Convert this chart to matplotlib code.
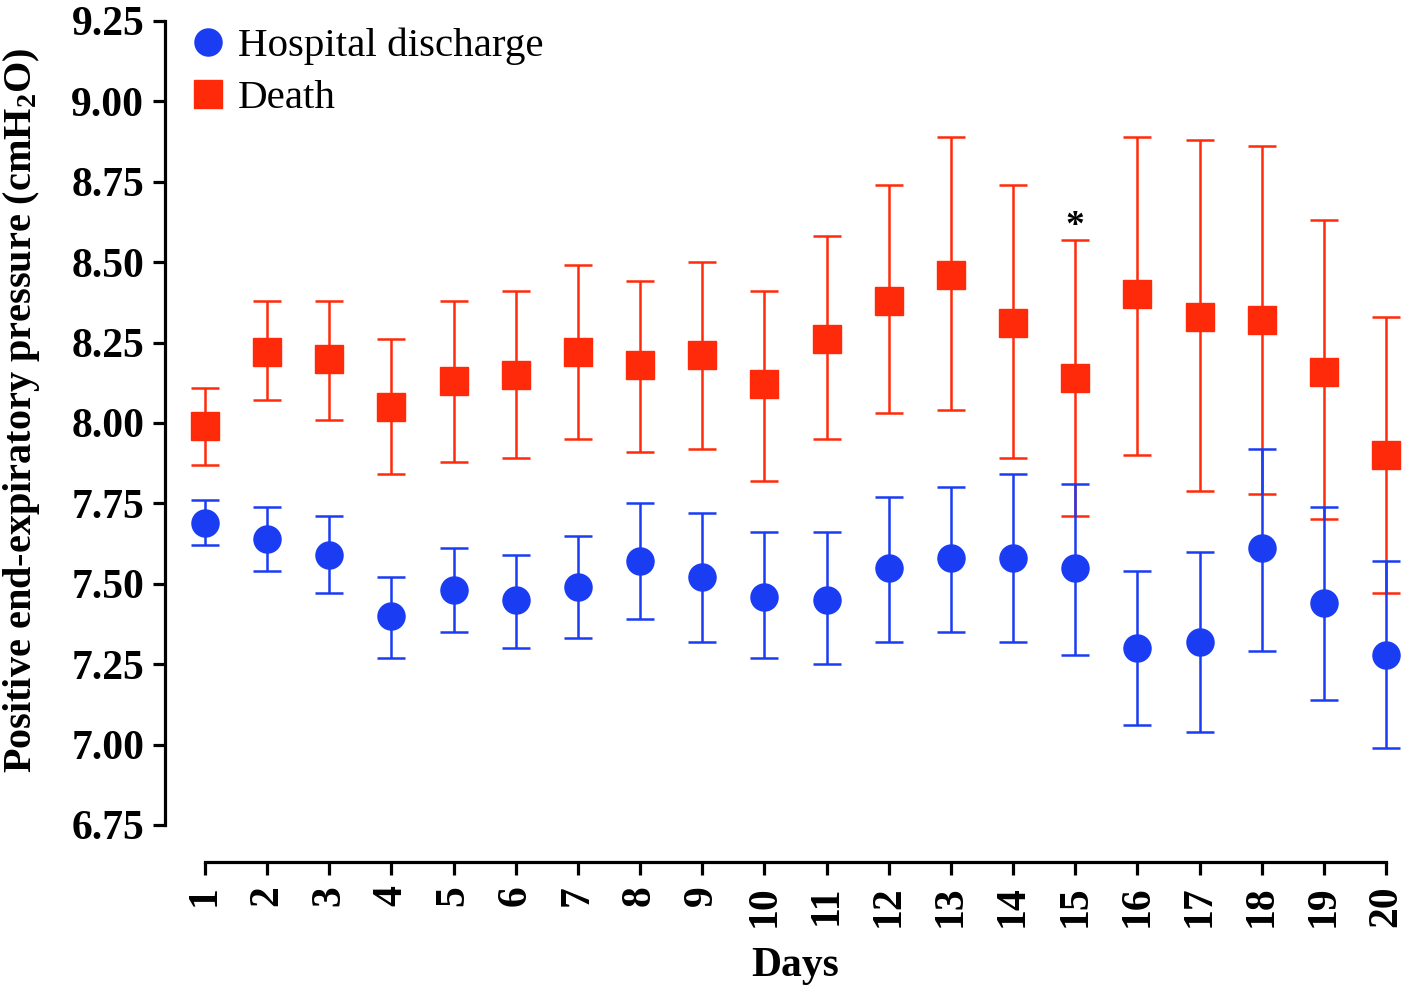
import matplotlib
matplotlib.use("Agg")
import matplotlib.pyplot as plt
from matplotlib.lines import Line2D
import numpy as np

days = list(range(1, 21))

death_mean = [7.99, 8.22, 8.20, 8.05, 8.13, 8.15, 8.22, 8.18, 8.21, 8.12,
              8.26, 8.38, 8.46, 8.31, 8.14, 8.40, 8.33, 8.32, 8.16, 7.90]
death_upper = [8.11, 8.38, 8.38, 8.26, 8.38, 8.41, 8.49, 8.44, 8.50, 8.41,
               8.58, 8.74, 8.89, 8.74, 8.57, 8.89, 8.88, 8.86, 8.63, 8.33]
death_lower = [7.87, 8.07, 8.01, 7.84, 7.88, 7.89, 7.95, 7.91, 7.92, 7.82,
               7.95, 8.03, 8.04, 7.89, 7.71, 7.90, 7.79, 7.78, 7.70, 7.47]

dis_mean = [7.69, 7.64, 7.59, 7.40, 7.48, 7.45, 7.49, 7.57, 7.52, 7.46,
            7.45, 7.55, 7.58, 7.58, 7.55, 7.30, 7.32, 7.61, 7.44, 7.28]
dis_upper = [7.76, 7.74, 7.71, 7.52, 7.61, 7.59, 7.65, 7.75, 7.72, 7.66,
             7.66, 7.77, 7.80, 7.84, 7.81, 7.54, 7.60, 7.92, 7.74, 7.57]
dis_lower = [7.62, 7.54, 7.47, 7.27, 7.35, 7.30, 7.33, 7.39, 7.32, 7.27,
             7.25, 7.32, 7.35, 7.32, 7.28, 7.06, 7.04, 7.29, 7.14, 6.99]

yticks = [6.75, 7.00, 7.25, 7.50, 7.75, 8.00, 8.25, 8.50, 8.75, 9.00, 9.25]
star_day = 15

plt.rcParams['font.family'] = ['Liberation Serif', 'DejaVu Serif']
plt.rcParams['mathtext.default'] = 'regular'

BLUE = '#1a3cf2'
RED = '#ff2a0a'

fig = plt.figure(figsize=(14.18, 9.96), dpi=100)
ax = fig.add_axes([205/1418, 1-825/996, (1386-205)/1418, (825-21)/996])

dm = np.array(death_mean)
de = [dm - np.array(death_lower), np.array(death_upper) - dm]
hm = np.array(dis_mean)
he = [hm - np.array(dis_lower), np.array(dis_upper) - hm]

ed = ax.errorbar(days, death_mean, yerr=de, fmt='s', color=RED, ecolor=RED,
                 markersize=19.5, elinewidth=1.8, capsize=10.4, capthick=1.8,
                 clip_on=False, zorder=3)
eh = ax.errorbar(days, dis_mean, yerr=he, fmt='o', color=BLUE, ecolor=BLUE,
                 markersize=19.5, elinewidth=1.8, capsize=10.4, capthick=1.8,
                 clip_on=False, zorder=4)
for art in (ed, eh):
    for c in art.lines[1]:
        c.set_clip_on(False)
    for c in art.lines[2]:
        c.set_clip_on(False)

i = days.index(star_day)
ax.annotate('*', xy=(star_day, death_upper[i]), xytext=(0, -3), textcoords='offset points',
            ha='center', va='bottom', fontsize=27, fontweight='bold')

ax.set_xlim(1, 20)
ax.set_ylim(6.75, 9.25)
ax.set_yticks(yticks)
ax.set_yticklabels([f'{v:.2f}' for v in yticks])
ax.set_xticks(days)
ax.set_xticklabels([str(d) for d in days])

for s in ['top', 'right']:
    ax.spines[s].set_visible(False)
ax.spines['left'].set_position(('outward', 28.8))
ax.spines['bottom'].set_position(('outward', 26.6))
ax.spines['left'].set_linewidth(2.3)
ax.spines['bottom'].set_linewidth(2.3)
ax.tick_params(axis='both', which='major', length=9, width=2.3, direction='out',
               labelsize=30, pad=6)
ax.tick_params(axis='x', labelrotation=90, pad=8)
for lab in ax.get_xticklabels() + ax.get_yticklabels():
    lab.set_fontweight('bold')

ax.set_ylabel('Positive end-expiratory pressure (cmH$_{2}$O)', fontsize=29,
              fontweight='bold')
ax.yaxis.set_label_coords(-0.138, 0.516)
ax.set_xlabel('Days', fontsize=30, fontweight='bold', labelpad=14)

h1 = Line2D([], [], marker='o', linestyle='none', color=BLUE, markersize=19.5)
h2 = Line2D([], [], marker='s', linestyle='none', color=RED, markersize=19.5)
leg = ax.legend(handles=[h1, h2], labels=['Hospital discharge', 'Death'],
                loc='upper left', bbox_to_anchor=(-0.025, 1.012), frameon=False,
                fontsize=29.5, handletextpad=0.32, handlelength=0.8, labelspacing=0.35,
                borderaxespad=0)

fig.savefig('out.png', dpi=100)
